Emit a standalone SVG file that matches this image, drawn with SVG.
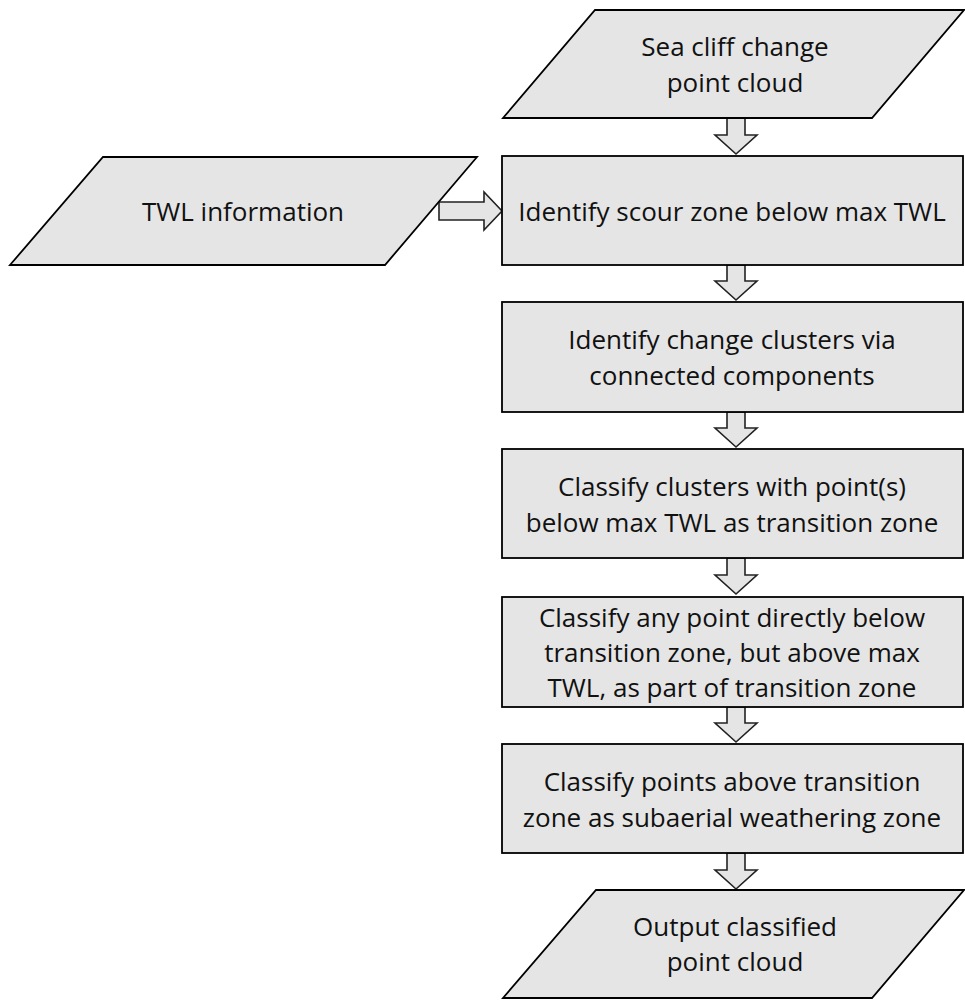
<svg xmlns="http://www.w3.org/2000/svg" width="965" height="1000" viewBox="0 0 965 1000">
<style>
.shape{fill:#e5e5e5;stroke:#000;stroke-width:1.8}
.arrow{fill:#e5e5e5;stroke:#222;stroke-width:1.6;stroke-linejoin:miter}
text{font-family:"Open Sans","Liberation Sans",sans-serif;font-size:26px;fill:#111;text-anchor:middle}
</style>
<rect width="965" height="1000" fill="#fff"/>
<g id="connectors">
<polygon class="arrow" points="727,118 745,118 745,135 757,135 736,154 715,135 727,135"/>
<polygon class="arrow" points="727,265 745,265 745,281 757,281 736,300 715,281 727,281"/>
<polygon class="arrow" points="727,412 745,412 745,428 757,428 736,447 715,428 727,428"/>
<polygon class="arrow" points="727,558 745,558 745,575 757,575 736,594 715,575 727,575"/>
<polygon class="arrow" points="727,707 745,707 745,723 757,723 736,742 715,723 727,723"/>
<polygon class="arrow" points="727,853 745,853 745,870 757,870 736,889 715,870 727,870"/>
<polygon class="arrow" points="439,202 484,202 484,192 502,211 484,230 484,220 439,220"/>
</g>
<g id="input-cloud">
<polygon class="shape" points="595,10 964,10 872,118 503,118"/>
<text x="735" y="56">Sea cliff change</text>
<text x="735" y="92">point cloud</text>
</g>
<g id="twl-info">
<polygon class="shape" points="103,157 477,157 385,265 10,265"/>
<text x="243" y="221">TWL information</text>
</g>
<g id="scour-zone">
<rect class="shape" x="502" y="156" width="461" height="109"/>
<text x="732" y="221">Identify scour zone below max TWL</text>
</g>
<g id="change-clusters">
<rect class="shape" x="502" y="302" width="461" height="110"/>
<text x="732" y="349">Identify change clusters via</text>
<text x="732" y="385">connected components</text>
</g>
<g id="transition-zone">
<rect class="shape" x="502" y="449" width="461" height="109"/>
<text x="732" y="496">Classify clusters with point(s)</text>
<text x="732" y="532">below max TWL as transition zone</text>
</g>
<g id="below-transition">
<rect class="shape" x="502" y="597" width="461" height="110"/>
<text x="732" y="627">Classify any point directly below</text>
<text x="732" y="662">transition zone, but above max</text>
<text x="732" y="697">TWL, as part of transition zone</text>
</g>
<g id="subaerial-zone">
<rect class="shape" x="502" y="744" width="461" height="109"/>
<text x="732" y="791">Classify points above transition</text>
<text x="732" y="827">zone as subaerial weathering zone</text>
</g>
<g id="output-cloud">
<polygon class="shape" points="596,890 964,890 872,998 503,998"/>
<text x="735" y="936">Output classified</text>
<text x="735" y="971">point cloud</text>
</g>
</svg>
